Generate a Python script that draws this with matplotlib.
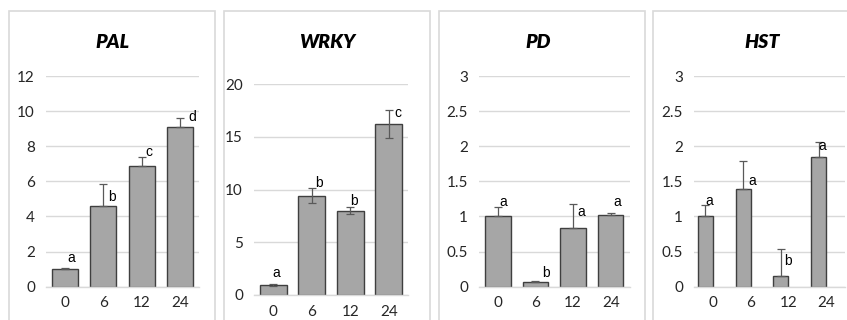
import matplotlib
matplotlib.use("Agg")
import matplotlib.pyplot as plt
from matplotlib.patches import Rectangle
import numpy as np

# ---------------- data ----------------
categories = ["0", "6", "12", "24"]

genes = ["PAL", "WRKY", "PD", "HST"]

pal_values = [1.0, 4.6, 6.9, 9.08]
pal_err = [0.04, 1.23, 0.48, 0.55]
pal_letters = ["a", "b", "c", "d"]

wrky_values = [0.95, 9.4, 8.0, 16.2]
wrky_err = [0.08, 0.7, 0.3, 1.35]
wrky_letters = ["a", "b", "b", "c"]

pd_values = [1.0, 0.065, 0.835, 1.015]
pd_err = [0.14, 0.01, 0.345, 0.04]
pd_letters = ["a", "b", "a", "a"]

hst_values = [1.0, 1.39, 0.152, 1.85]
hst_err = [0.16, 0.40, 0.38, 0.21]
hst_letters = ["a", "a", "b", "a"]

pal_yticks = [0, 2, 4, 6, 8, 10, 12]
wrky_yticks = [0, 5, 10, 15, 20]
pd_yticks = [0, 0.5, 1, 1.5, 2, 2.5, 3]
hst_yticks = [0, 0.5, 1, 1.5, 2, 2.5, 3]

# ---------------- layout / style ----------------
W, H = 847, 320
fig = plt.figure(figsize=(W / 100, H / 100), dpi=100)
fig.patch.set_facecolor("white")

def frac(x0, x1, ytop, ybot):
    return [x0 / W, 1 - ybot / H, (x1 - x0) / W, (ybot - ytop) / H]

panels = [
    dict(values=pal_values, err=pal_err, letters=pal_letters, yticks=pal_yticks,
         ylabels=["0", "2", "4", "6", "8", "10", "12"],
         rect=frac(46, 199, 76, 286.7), frame=(9, 215), title_x=112, bw=0.68, shift=0.0,
         both=False,
         offs=[(6, 10.4), (9, -12.8), (7.5, 5.3), (12, 0.7)]),
    dict(values=wrky_values, err=wrky_err, letters=wrky_letters, yticks=wrky_yticks,
         ylabels=["0", "5", "10", "15", "20"],
         rect=frac(254, 408, 84, 295), frame=(224, 430), title_x=327, bw=0.69, shift=0.0,
         both=True,
         offs=[(3, 10.9), (7.5, 5.5), (4, 6.2), (8.7, -3)]),
    dict(values=pd_values, err=pd_err, letters=pd_letters, yticks=pd_yticks,
         ylabels=["0", "0.5", "1", "1.5", "2", "2.5", "3"],
         rect=frac(479, 629.5, 76, 286.7), frame=(439, 645), title_x=538, bw=0.68, shift=0.0,
         both=False,
         offs=[(5.3, 4.9), (10.5, 8.7), (8.5, -8.4), (7, 10.3)]),
    dict(values=hst_values, err=hst_err, letters=hst_letters, yticks=hst_yticks,
         ylabels=["0", "0.5", "1", "1.5", "2", "2.5", "3"],
         rect=frac(694, 845, 76, 286.7), frame=(653, 862), title_x=762, bw=0.40, shift=-0.2,
         both=False,
         offs=[(4, 4.2), (9, -20), (7, -12), (4, -3.5)]),
]

bar_face = "#A6A6A6"
bar_edge = "#3F3F3F"
grid_col = "#D9D9D9"
frame_col = "#D9D9D9"
tick_font = "Lato"
px2pt = 0.72

for gene, p in zip(genes, panels):
    # chart-area frame
    x0, x1 = p["frame"]
    fig.patches.append(Rectangle((x0 / W, -0.2), (x1 - x0) / W, 1 - 11 / H + 0.2,
                                 transform=fig.transFigure, fill=False,
                                 edgecolor=frame_col, linewidth=1.2))
    fig.text(p["title_x"] / W, 1 - 42 / H, gene, ha="center", va="center",
             fontsize=14, fontweight="heavy", fontstyle="italic", family=tick_font,
             color="#000000")

    ax = fig.add_axes(p["rect"])
    x = np.arange(len(categories))
    bx = x + p["shift"]
    vals = np.array(p["values"])
    errs = np.array(p["err"])
    ax.set_ylim(p["yticks"][0], p["yticks"][-1])
    ax.set_xlim(-0.5, len(categories) - 0.5)
    ax.set_yticks(p["yticks"])
    ax.set_yticklabels(p["ylabels"])
    ax.set_xticks(x)
    ax.set_xticklabels(categories)
    ax.grid(axis="y", color=grid_col, linewidth=1.0, zorder=0)
    ax.set_axisbelow(True)
    for s in ["top", "right", "left"]:
        ax.spines[s].set_visible(False)
    ax.spines["bottom"].set_color(grid_col)
    ax.spines["bottom"].set_linewidth(1.0)
    ax.tick_params(axis="both", length=0, labelsize=11, colors="#262626")
    ax.tick_params(axis="y", pad=8)
    ax.tick_params(axis="x", pad=7)
    for lab in ax.get_xticklabels() + ax.get_yticklabels():
        lab.set_family(tick_font)

    ax.bar(bx, vals, width=p["bw"], color=bar_face, edgecolor=bar_edge,
           linewidth=1.0, zorder=2)
    if p["both"]:
        yerr = [errs, errs]
    else:
        yerr = [np.zeros_like(errs), errs]
    ax.errorbar(bx, vals, yerr=yerr, fmt="none", ecolor="#595959",
                elinewidth=0.9, capsize=3, capthick=0.9, zorder=3)

    for i, (lt, (dx, dy)) in enumerate(zip(p["letters"], p["offs"])):
        ax.annotate(lt, xy=(bx[i], vals[i] + errs[i]),
                    xytext=(dx * px2pt, dy * px2pt), textcoords="offset points",
                    ha="center", va="center", fontsize=10,
                    family="Liberation Sans", color="#000000",
                    annotation_clip=False, zorder=4)

fig.savefig("out.png", dpi=100, facecolor="white")
